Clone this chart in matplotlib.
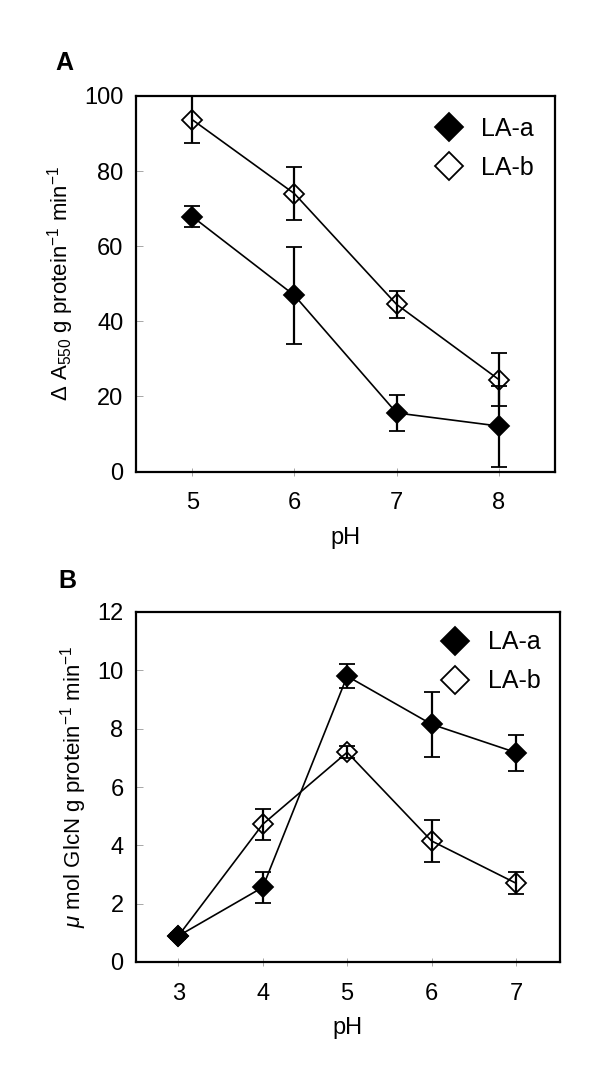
import matplotlib
matplotlib.use("Agg")
import matplotlib.pyplot as plt
from matplotlib.lines import Line2D

plt.rcParams['font.family'] = ['Liberation Sans', 'DejaVu Sans']
plt.rcParams['mathtext.fontset'] = 'custom'
plt.rcParams['mathtext.rm'] = 'Liberation Sans'
plt.rcParams['mathtext.it'] = 'Liberation Sans:italic'
plt.rcParams['mathtext.default'] = 'regular'

# panel A: activity vs pH
ph_a = [5, 6, 7, 8]
la_a_A = [67.9, 46.9, 15.6, 12.1]
la_a_A_err = [2.9, 13.0, 4.7, 10.8]
la_b_A = [93.7, 74.0, 44.5, 24.5]
la_b_A_err = [6.3, 7.0, 3.6, 7.0]

# panel B: GlcN release vs pH
ph_b = [3, 4, 5, 6, 7]
la_a_B = [0.89, 2.56, 9.80, 8.15, 7.18]
la_a_B_err = [0.1, 0.52, 0.42, 1.12, 0.62]
la_b_B = [0.89, 4.72, 7.19, 4.15, 2.70]
la_b_B_err = [0.1, 0.52, 0.2, 0.72, 0.38]

MS = 10
FS = 17


def panel(ax, x, ya, ea, yb, eb, xlim, ylim, yticks, ylabel, leg_anchor):
    kw = dict(color='black', lw=1.2, elinewidth=1.6, capsize=5.5, capthick=1.6,
              marker='D', markersize=MS, markeredgewidth=1.3)
    ax.errorbar(x, yb, yerr=eb, mfc='none', mec='black', zorder=3, **kw)
    ax.errorbar(x, ya, yerr=ea, mfc='black', mec='black', zorder=4, **kw)
    ax.set_xlim(*xlim)
    ax.set_ylim(*ylim)
    ax.set_xticks(x)
    ax.set_yticks(yticks)
    for s in ax.spines.values():
        s.set_linewidth(1.6)
    ax.tick_params(axis='x', direction='inout', length=6, width=0.6, color='0.6',
                   labelsize=FS, pad=12)
    ax.tick_params(axis='y', direction='in', length=5, width=0.6, color='0.6',
                   labelsize=FS, pad=9)
    ax.set_xlabel('pH', fontsize=FS, labelpad=9)
    ax.set_ylabel(ylabel, fontsize=16, labelpad=6)
    handles = [Line2D([], [], ls='none', marker='D', ms=MS * 1.4, mfc='black', mec='black', mew=1.3),
               Line2D([], [], ls='none', marker='D', ms=MS * 1.4, mfc='none', mec='black', mew=1.3)]
    ax.legend(handles, ['LA-a', 'LA-b'], loc='upper right', bbox_to_anchor=leg_anchor,
              frameon=False, fontsize=FS + 1, handletextpad=0.3, labelspacing=0.6,
              borderaxespad=0.0)


fig = plt.figure(figsize=(6.0, 10.89), dpi=100)

axA = fig.add_axes([136 / 600, 1 - 471.5 / 1089, 419 / 600, 375.5 / 1089])
panel(axA, ph_a, la_a_A, la_a_A_err, la_b_A, la_b_A_err, (4.45, 8.55), (0, 100),
      range(0, 101, 20), r'$\Delta$ A$_{550}$ g protein$^{-1}$ min$^{-1}$', (0.974, 0.972))

axB = fig.add_axes([136 / 600, 1 - 962 / 1089, 424 / 600, 350 / 1089])
panel(axB, ph_b, la_a_B, la_a_B_err, la_b_B, la_b_B_err, (2.5, 7.52), (0, 12),
      range(0, 13, 2), r'$\mathit{\mu}$ mol GlcN g protein$^{-1}$ min$^{-1}$', (0.978, 0.976))

fig.text(55 / 600, 1 - 70 / 1089, 'A', fontsize=18, fontweight='bold')
fig.text(58 / 600, 1 - 588 / 1089, 'B', fontsize=18, fontweight='bold')

fig.savefig('out.png', dpi=100)
